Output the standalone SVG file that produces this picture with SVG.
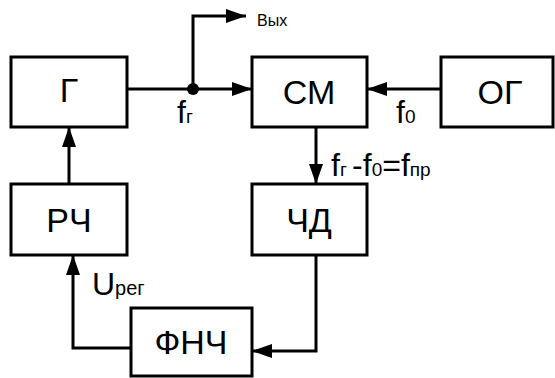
<svg xmlns="http://www.w3.org/2000/svg" width="555" height="378" viewBox="0 0 555 378">
  <style>
    .box { fill: #fff; stroke: #000; stroke-width: 3; }
    .lbl { font-family: "Liberation Sans", Arial, sans-serif; font-size: 34px; text-anchor: middle; fill: #000; }
    .sig { font-family: "Liberation Sans", Arial, sans-serif; font-size: 32px; fill: #000; }
    .sub { font-size: 19px; }
    .wire { fill: none; stroke: #000; stroke-width: 3; }
  </style>
  <defs>
    <marker id="arrow" viewBox="0 0 20 14" refX="20" refY="7" markerWidth="20" markerHeight="14" markerUnits="userSpaceOnUse" orient="auto">
      <path d="M0,0 L20,7 L0,14 Z" fill="#000"/>
    </marker>
  </defs>

  <rect width="555" height="378" fill="#fff"/>

  <!-- connectors -->
  <g id="connectors">
    <line class="wire" x1="127" y1="89" x2="252" y2="89" marker-end="url(#arrow)"/>
    <polyline class="wire" points="193,89 193,16 246,16" marker-end="url(#arrow)"/>
    <line class="wire" x1="441" y1="89" x2="367" y2="89" marker-end="url(#arrow)"/>
    <line class="wire" x1="316" y1="127" x2="316" y2="184" marker-end="url(#arrow)"/>
    <polyline class="wire" points="316,255 316,351 252,351" marker-end="url(#arrow)"/>
    <polyline class="wire" points="131,348 73,348 73,255" marker-end="url(#arrow)"/>
    <line class="wire" x1="69" y1="184" x2="69" y2="127" marker-end="url(#arrow)"/>
    <circle cx="193" cy="89" r="6" fill="#000"/>
    <text x="257" y="26" font-family="Liberation Sans, Arial, sans-serif" font-size="16">Вых</text>
    <text class="sig" x="177" y="123">f<tspan class="sub">г</tspan></text>
    <text class="sig" x="396" y="123">f<tspan class="sub">0</tspan></text>
    <text class="sig" x="331" y="176">f<tspan class="sub">г </tspan>-f<tspan class="sub">0</tspan>=f<tspan class="sub">пр</tspan></text>
    <text class="sig" x="92" y="295">U<tspan style="font-size:20px">рег</tspan></text>
  </g>

  <!-- blocks -->
  <g id="gen">
    <rect class="box" x="11" y="57" width="116" height="70"/>
    <text class="lbl" x="69" y="102">Г</text>
  </g>
  <g id="mixer">
    <rect class="box" x="252" y="57" width="115" height="70"/>
    <text class="lbl" x="309" y="104">СМ</text>
  </g>
  <g id="ref-gen">
    <rect class="box" x="441" y="57" width="112" height="70"/>
    <text class="lbl" x="500" y="104">ОГ</text>
  </g>
  <g id="freq-ctrl">
    <rect class="box" x="11" y="184" width="116" height="71"/>
    <text class="lbl" x="69" y="232">РЧ</text>
  </g>
  <g id="freq-det">
    <rect class="box" x="252" y="184" width="115" height="71"/>
    <text class="lbl" x="309" y="232">ЧД</text>
  </g>
  <g id="lpf">
    <rect class="box" x="131" y="308" width="121" height="68"/>
    <text class="lbl" x="191" y="354">ФНЧ</text>
  </g>
</svg>
